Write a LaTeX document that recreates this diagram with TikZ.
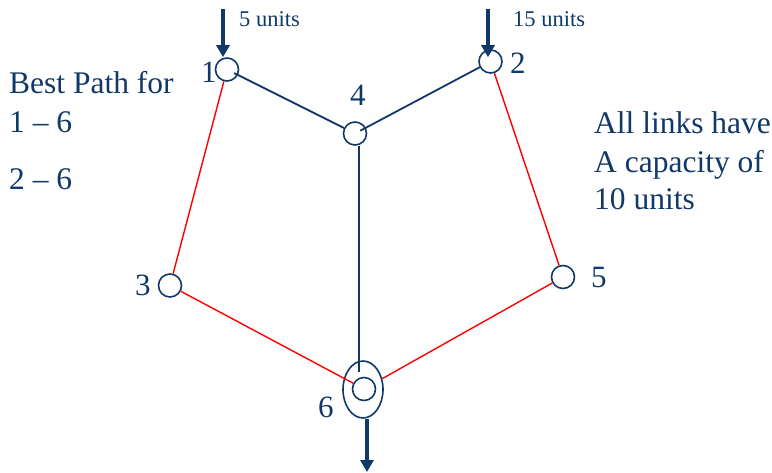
\documentclass[tikz,border=0pt]{standalone}
\usepackage{fontspec}
\setmainfont{Liberation Serif}
\usetikzlibrary{arrows.meta,calc,shapes.geometric}
\definecolor{navy}{RGB}{16,56,104}
\begin{document}
\begin{tikzpicture}[x=1pt,y=-1pt,
  vtx/.style={circle,draw=navy,line width=1.6pt,minimum size=23pt,inner sep=0pt},
  bl/.style={draw=navy,line width=1.8pt},
  rd/.style={draw=red,line width=1.4pt},
  flow/.style={draw=navy,line width=4pt,-{Triangle[width=13pt,length=12pt]}},
  lbl/.style={text=navy,font=\fontsize{31}{36}\selectfont,inner sep=0pt,anchor=base west},
  big/.style={text=navy,font=\fontsize{31.5}{36}\selectfont,inner sep=0pt,anchor=base west},
  small/.style={text=navy,font=\fontsize{22.5}{26}\selectfont,inner sep=0pt,anchor=base west}]
\useasboundingbox (0,0) rectangle (772,472);
% vertices
\node[vtx] (n1) at (227,69.5) {};
\node[vtx] (n2) at (490.5,61.5) {};
\node[vtx] (n3) at (170,285.5) {};
\node[vtx] (n4) at (355,133.5) {};
\node[vtx] (n5) at (563,277) {};
\node[vtx] (n6) at (364,389) {};
\node[ellipse,draw=navy,line width=1.6pt,minimum width=40pt,minimum height=57pt,inner sep=0pt] (e6) at (363,389.5) {};
% vertex labels
\node[lbl] (l1) at (201,82) {1};
\node[lbl] (l2) at (510,73) {2};
\node[lbl] (l3) at (135,295) {3};
\node[lbl] (l4) at (350,105) {4};
\node[lbl] (l5) at (591,287) {5};
\node[lbl] (l6) at (318,417) {6};
% blue links
\draw[bl] ($(n1.center)!8pt!(n4.center)$) -- (n4);
\draw[bl] ($(n4.center)!6pt!(n2.center)$) -- (n2);
\draw[bl] ([xshift=4pt]n4.south) -- ([xshift=-5pt,yshift=5pt]n6.north);
% red links
\draw[rd] (n1) -- (n3);
\draw[rd] (n3) -- (n6);
\draw[rd] (n2) -- (n5);
\draw[rd] (n5) -- (e6);
% flows
\coordinate (in1) at (223,9);
\coordinate (in2) at (488,9);
\coordinate (out6) at (367,472);
\draw[flow] (in1) -- ([xshift=-4pt]n1.north);
\draw[flow] (in2) -- ([xshift=-2.5pt,yshift=-8pt]n2.north);
\draw[flow] ([xshift=4pt]e6.south) -- (out6);
\node[small] (u1) at (239,26) {5 units};
\node[small] (u2) at (513,26) {15 units};
% texts
\node[big] (t1) at (9,93) {Best Path for};
\node[big] (t2) at (9,132) {1 – 6};
\node[big] (t3) at (9,189) {2 – 6};
\node[big] (t4) at (594,133) {All links have};
\node[big] (t5) at (594,172) {A capacity of};
\node[big] (t6) at (594,209) {10 units};
\end{tikzpicture}
\end{document}
